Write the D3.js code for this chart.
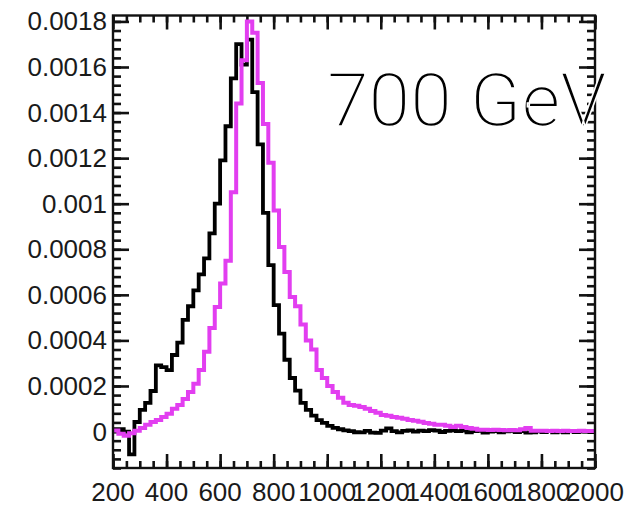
<!DOCTYPE html>
<html><head><meta charset="utf-8">
<script src="https://cdn.jsdelivr.net/npm/d3@7"></script>
<style>
html,body{margin:0;padding:0;background:#fff;}
svg{display:block;}
</style></head>
<body>
<svg id="c" width="626" height="507"></svg>
<script>
// ---- data ----
const binEdges = d3.range(200, 2001, 20); // 90 bins of 20 GeV
const blackValues = [
 0.00001, 0.00001, 0.0, -0.0001, 0.000042, 0.000095, 0.000126, 0.000178, 0.00029, 0.000283,
 0.00027, 0.000336, 0.00039, 0.00049, 0.00055, 0.00062, 0.00069, 0.00076, 0.00087, 0.001,
 0.00119, 0.00134, 0.00155, 0.0017, 0.00161, 0.00172, 0.00149, 0.00126, 0.00096, 0.00073,
 0.000555, 0.00043, 0.000315, 0.000235, 0.00018, 0.000126, 0.000095, 0.00007, 0.00005, 0.000038,
 0.000025, 0.000016, 0.00001, 0.000005, 0.000002, -0.000003, -0.000004, 0.000003, -0.000005, -0.000006,
 0.000004, 0.000014, 0.000002, -0.000004, 0.000003, 0.000005, 0.0, 0.000004, 0.000002, 0.000006,
 0.000004, -0.000002, 0.000003, 0.000005, 0.000002, 0.000004, -0.000003, 0.000002, 0.000003, -0.000005,
 0.0, 0.000002, -0.000004, 0.000001, 0.000003, -0.000002, 0.000002, -0.000005, -0.000003, 0.000001,
 -0.000002, 0.000002, -0.000004, 0.0, -0.000003, 0.000002, -0.000002, 0.000001, 0.0, -0.000002
];
const magentaValues = [
 0.000005, -0.00001, -0.000018, -0.000008, 0.000003, 0.000016, 0.00003, 0.000042, 0.000051, 0.000064,
 0.000078, 0.0001, 0.000117, 0.000143, 0.000174, 0.00021, 0.00027, 0.00035, 0.000455, 0.000547,
 0.00065, 0.00075, 0.00105, 0.00144, 0.00163, 0.0018, 0.00175, 0.00153, 0.00135, 0.00118,
 0.00097, 0.00081, 0.0007, 0.00059, 0.00055, 0.00047, 0.0004, 0.00036, 0.00027, 0.000235,
 0.0002, 0.000174, 0.000148, 0.000126, 0.000117, 0.000113, 0.000108, 0.0001, 0.00009, 0.000082,
 0.000073, 0.000069, 0.000064, 0.00006, 0.000056, 0.000051, 0.000047, 0.000043, 0.000038, 0.000034,
 0.00003, 0.00003, 0.000025, 0.00002, 0.000025, 0.00002, 0.000016, 0.000012, 0.000008, 0.000008,
 0.000007, 0.000008, 0.000007, 0.000006, 0.000007, 0.000006, 0.00001, 0.000016, 0.000004, 0.000003,
 0.000003, 0.000002, 0.000003, 0.000002, 0.000003, 0.000002, 0.000002, 0.000003, 0.000002, 0.000002
];
const xTickValues = [200, 400, 600, 800, 1000, 1200, 1400, 1600, 1800, 2000];
const xTickLabels = ["200", "400", "600", "800", "1000", "1200", "1400", "1600", "1800", "2000"];
const yTickValues = [0, 0.0002, 0.0004, 0.0006, 0.0008, 0.001, 0.0012, 0.0014, 0.0016, 0.0018];
const yTickLabels = ["0", "0.0002", "0.0004", "0.0006", "0.0008", "0.001", "0.0012", "0.0014", "0.0016", "0.0018"];
const annotation = "700 GeV";

// ---- layout ----
const svg = d3.select("#c");
const L = 113, R = 595, T = 15.5, B = 468;
const xs = d3.scaleLinear().domain([200, 2000]).range([L, R]);
const ys = d3.scaleLinear().domain([-0.00016, 0.001826]).range([B, T]);

// ticks (inner, on all four sides) drawn with d3 axes
function styleAxis(g) {
  g.select(".domain").remove();
  g.selectAll(".tick line").attr("stroke", "#111").attr("stroke-width", 2.6);
  g.selectAll(".tick text").remove();
}
const yMinorTicks = d3.range(-4, 46).map(i => i * 0.00004).filter(v => v >= -0.00016 && v <= 0.001826);
const xMinorTicks = d3.range(200, 2001, 50);
const axes = svg.append("g");
axes.append("g").attr("transform", `translate(${L},0)`)
  .call(d3.axisLeft(ys).tickValues(yMinorTicks).tickSize(-8)).call(styleAxis);
axes.append("g").attr("transform", `translate(${L},0)`)
  .call(d3.axisLeft(ys).tickValues(yTickValues).tickSize(-16)).call(styleAxis);
axes.append("g").attr("transform", `translate(${R},0)`)
  .call(d3.axisRight(ys).tickValues(yMinorTicks).tickSize(-8)).call(styleAxis);
axes.append("g").attr("transform", `translate(${R},0)`)
  .call(d3.axisRight(ys).tickValues(yTickValues).tickSize(-16)).call(styleAxis);
axes.append("g").attr("transform", `translate(0,${B})`)
  .call(d3.axisBottom(xs).tickValues(xMinorTicks).tickSize(-7)).call(styleAxis);
axes.append("g").attr("transform", `translate(0,${B})`)
  .call(d3.axisBottom(xs).tickValues(xTickValues).tickSize(-14)).call(styleAxis);
axes.append("g").attr("transform", `translate(0,${T})`)
  .call(d3.axisTop(xs).tickValues(xMinorTicks).tickSize(-7)).call(styleAxis);
axes.append("g").attr("transform", `translate(0,${T})`)
  .call(d3.axisTop(xs).tickValues(xTickValues).tickSize(-14)).call(styleAxis);

function stepPath(vals) {
  const pts = vals.map((v, i) => [binEdges[i], v]);
  pts.push([binEdges[vals.length], vals[vals.length - 1]]);
  return d3.line().x(d => xs(d[0])).y(d => ys(d[1])).curve(d3.curveStepAfter)(pts);
}

const plot = svg.append("g");
plot.append("path").attr("d", stepPath(blackValues))
  .attr("fill", "none").attr("stroke", "#000").attr("stroke-width", 3.8)
  .attr("stroke-linejoin", "miter");
plot.append("path").attr("d", stepPath(magentaValues))
  .attr("fill", "none").attr("stroke", "#e23ef0").attr("stroke-width", 4)
  .attr("stroke-linejoin", "miter");

// frame
svg.append("rect").attr("x", L).attr("y", T).attr("width", R - L).attr("height", B - T)
  .attr("fill", "none").attr("stroke", "#111").attr("stroke-width", 2.4);

// labels
const lab = svg.append("g").attr("font-family", "'Liberation Sans', Arial, Helvetica, sans-serif")
  .attr("font-size", 26).attr("fill", "#1a1a1a");
yTickValues.forEach((v, i) => {
  lab.append("text").attr("x", 107).attr("y", ys(v)).attr("text-anchor", "end")
    .attr("dominant-baseline", "central").text(yTickLabels[i]);
});
xTickValues.forEach((v, i) => {
  lab.append("text").attr("x", xs(v)).attr("y", 501).attr("text-anchor", "middle").text(xTickLabels[i]);
});

svg.append("text").attr("x", 327).attr("y", 126)
  .attr("font-family", "Roboto, 'Open Sans', sans-serif").attr("font-weight", 300)
  .attr("font-size", 75).attr("fill", "#000")
  .attr("stroke", "#fff").attr("stroke-width", 1.6)
  .text(annotation);
</script>
</body></html>
